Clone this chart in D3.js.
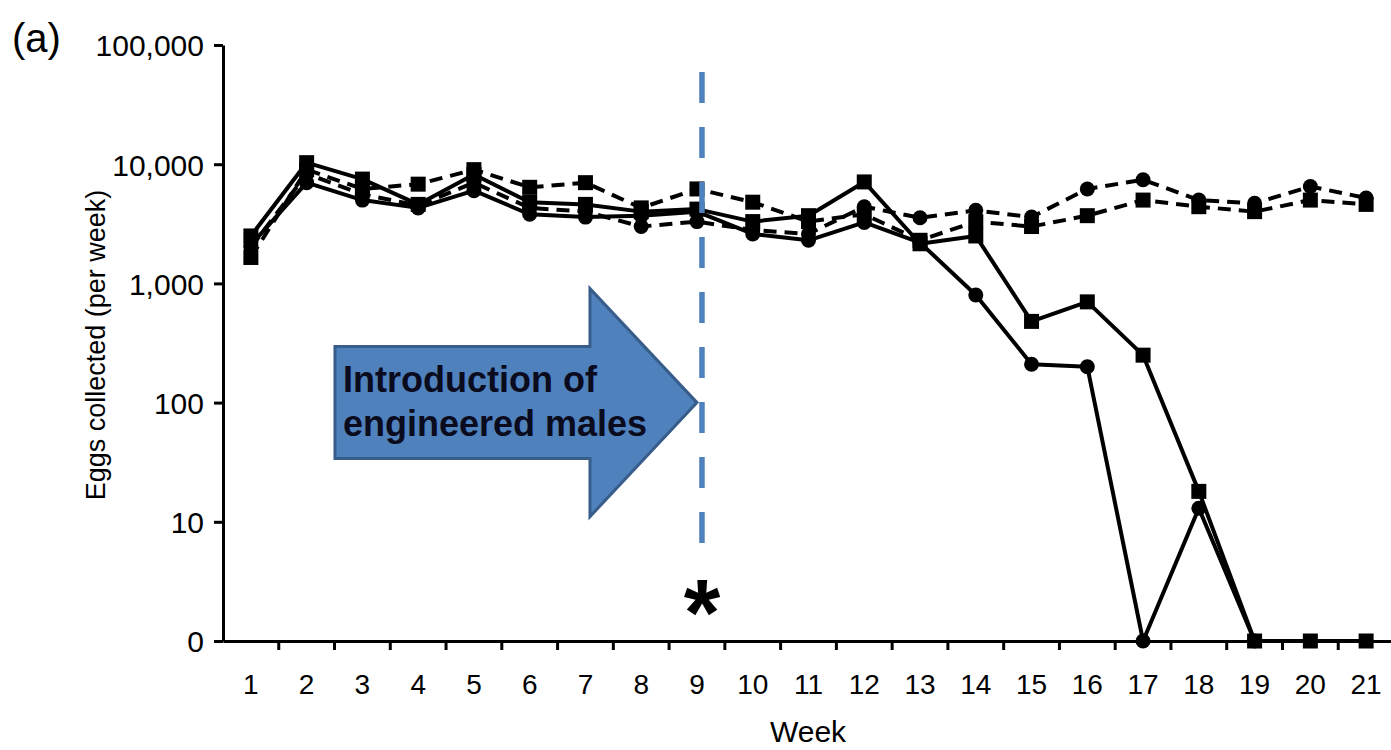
<!DOCTYPE html>
<html><head><meta charset="utf-8">
<script src="https://cdn.jsdelivr.net/npm/d3@7/dist/d3.min.js"></script>
<style>
html,body{margin:0;padding:0;background:#fff;}
svg{display:block;}
text{font-family:"Liberation Sans",Arial,sans-serif;}
</style></head>
<body>
<svg id="chart" width="1391" height="750"></svg>
<script>
// ---- data ----
const weeks = [1,2,3,4,5,6,7,8,9,10,11,12,13,14,15,16,17,18,19,20,21];
const yTickValues = [1,10,100,1000,10000,100000];
const yTickLabels = ["0","10","100","1,000","10,000","100,000"];
// engineered-male cages (solid)
const solidSquare = [2500,10300,7500,4600,8200,4800,4600,4000,4200,3300,3700,7100,2150,2500,480,700,250,18,0,0,0];
const solidCircle = [2100,7000,5000,4300,6000,3800,3600,3700,4000,2600,2300,3250,2200,800,210,200,0,13,0];
// control cages (dashed)
const dashedCircle = [2000,8300,5600,4500,7000,4300,4000,3000,3300,2800,2600,4400,3550,4100,3600,6200,7400,5000,4700,6500,5200];
const dashedSquare = [1650,9000,6200,6800,9000,6400,7000,4300,6200,4800,3300,3800,2300,3300,3000,3700,5000,4400,4000,5000,4600];
const arrowText = ["Introduction of","engineered males"];
const introWeek = 9;

// ---- layout ----
const svg = d3.select("#chart");
const mLeft = 223, mRight = 1394, mTop = 45, mBottom = 641;
const x = d3.scaleBand().domain(weeks).range([mLeft, mRight]).padding(0);
const bw = x.bandwidth();
const cx = w => x(w) + bw/2;
const y = d3.scaleLog().domain([1,100000]).range([mBottom, mTop]);
const yv = v => y(Math.max(v,1));

// ---- series ----
const series = [
  {vals: dashedCircle, dash: "13,8", marker: "circle"},
  {vals: dashedSquare, dash: "13,8", marker: "square"},
  {vals: solidCircle, dash: null, marker: "circle"},
  {vals: solidSquare, dash: null, marker: "square"}
];
const line = d3.line().x(d => cx(d.w)).y(d => yv(d.v));

series.forEach(s => {
  const pts = s.vals.map((v,i) => ({w: weeks[i], v}));
  svg.append("path").datum(pts)
    .attr("d", line).attr("fill","none").attr("stroke","#000")
    .attr("stroke-width",4).attr("stroke-linejoin","round")
    .attr("stroke-dasharray", s.dash);
});
series.forEach(s => {
  const pts = s.vals.map((v,i) => ({w: weeks[i], v}));
  if (s.marker === "circle") {
    svg.append("g").selectAll("circle").data(pts).join("circle")
      .attr("cx", d => cx(d.w)).attr("cy", d => yv(d.v)).attr("r", 7.5).attr("fill","#000");
  } else {
    svg.append("g").selectAll("rect").data(pts).join("rect")
      .attr("x", d => cx(d.w)-7.5).attr("y", d => yv(d.v)-7.5)
      .attr("width",15).attr("height",15).attr("fill","#000");
  }
});

// ---- axes ----
const yAxis = svg.append("g").attr("transform",`translate(${mLeft},0)`)
  .call(d3.axisLeft(y).tickValues(yTickValues).tickFormat((d,i)=>yTickLabels[i]).tickSize(9).tickPadding(10).tickSizeOuter(0));
yAxis.select(".domain").attr("stroke","#000").attr("stroke-width",3);
yAxis.selectAll(".tick line").attr("stroke","#000").attr("stroke-width",3);
yAxis.selectAll(".tick text").attr("font-size",30).attr("fill","#000").attr("dy","0.36em");

const xAxis = svg.append("g").attr("transform",`translate(0,${mBottom})`)
  .call(d3.axisBottom(x).tickSize(0).tickPadding(33).tickSizeOuter(0));
xAxis.select(".domain").attr("stroke","#000").attr("stroke-width",3);
xAxis.selectAll(".tick text").attr("font-size",28).attr("fill","#000");
// boundary ticks
xAxis.append("g").selectAll("line").data(weeks.slice(1)).join("line")
  .attr("x1", d => x(d)).attr("x2", d => x(d)).attr("y1",0).attr("y2",9)
  .attr("stroke","#000").attr("stroke-width",3);

// ---- titles ----
svg.append("text").attr("x",12).attr("y",52).attr("font-size",40).text("(a)");
svg.append("text").attr("transform",`translate(105,${(mTop+mBottom)/2+2}) rotate(-90)`)
  .attr("text-anchor","middle").attr("font-size",27).text("Eggs collected (per week)");
svg.append("text").attr("x",808).attr("y",742).attr("text-anchor","middle").attr("font-size",30).text("Week");

// ---- annotation: dashed blue line + asterisk ----
const vx = cx(introWeek) + 5;
svg.append("line").attr("x1",vx).attr("x2",vx).attr("y1",72).attr("y2",550)
  .attr("stroke","#4F81BD").attr("stroke-width",5.5).attr("stroke-dasharray","31,24");
svg.append("text").attr("x",vx).attr("y",645).attr("text-anchor","middle")
  .attr("font-size",94).attr("font-weight","bold").text("*");

// ---- arrow ----
const tipX = cx(introWeek), tipY = y(100);
const ax0 = tipX - 362, neck = tipX - 107, halfBody = 56, halfHead = 114;
const arrowPts = [[ax0,tipY-halfBody],[neck,tipY-halfBody],[neck,tipY-halfHead],[tipX,tipY],
  [neck,tipY+halfHead],[neck,tipY+halfBody],[ax0,tipY+halfBody]];
svg.append("polygon").attr("points", arrowPts.map(p=>p.join(",")).join(" "))
  .attr("fill","#4F81BD").attr("stroke","#385D8A").attr("stroke-width",3);
svg.append("g").selectAll("text").data(arrowText).join("text")
  .attr("x", ax0 + 8).attr("y",(d,i)=> tipY - 11 + i*44)
  .attr("font-size",36).attr("font-weight","bold").attr("fill","#0b0b1e").text(d=>d);
</script>
</body></html>
